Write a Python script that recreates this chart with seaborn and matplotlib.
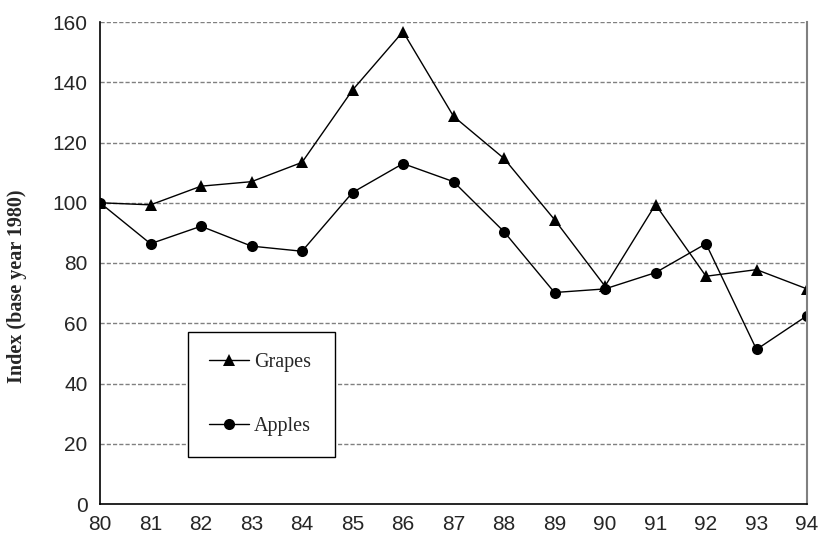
import matplotlib
matplotlib.use("Agg")
import matplotlib.pyplot as plt
import seaborn as sns
import pandas as pd
from matplotlib.lines import Line2D

years = [80, 81, 82, 83, 84, 85, 86, 87, 88, 89, 90, 91, 92, 93, 94]
grapes = [100, 99.3, 105.5, 107, 113.4, 137.4, 156.8, 128.7, 114.7, 94.4, 72.3, 99.4, 75.6, 77.8, 71.4]
apples = [100, 86.4, 92.2, 85.6, 83.9, 103.4, 113, 107, 90.4, 70.2, 71.4, 76.8, 86.4, 51.3, 62.5]
yticks = [0, 20, 40, 60, 80, 100, 120, 140, 160]

df = pd.DataFrame({"year": years * 2,
                   "value": grapes + apples,
                   "series": ["Grapes"] * len(years) + ["Apples"] * len(years)})

sns.set_style("white")
fig = plt.figure(figsize=(8.19, 5.34), dpi=100)
ax = fig.add_axes([100 / 819, 30 / 534, 707 / 819, 482 / 534])

sns.lineplot(data=df, x="year", y="value", hue="series", style="series",
             palette={"Grapes": "black", "Apples": "black"},
             markers={"Grapes": "^", "Apples": "o"}, dashes=False,
             markersize=8, markeredgewidth=0, linewidth=1.0, ax=ax, legend=False)

ax.set_xlim(80, 94)
ax.set_ylim(0, 160)
ax.set_xticks(years)
ax.set_xticklabels([str(y) for y in years], family="Liberation Sans", fontsize=15)
ax.set_yticks(yticks)
ax.set_yticklabels([str(v) for v in yticks], family="Liberation Sans", fontsize=15)

for v in yticks[1:]:
    ax.axhline(v, color="#808080", linestyle=(0, (3, 1.5)), linewidth=1.0, zorder=0)

ax.spines["top"].set_visible(False)
ax.spines["right"].set_color("#808080")
ax.spines["right"].set_linewidth(1.5)
ax.spines["left"].set_color("black")
ax.spines["bottom"].set_color("black")
ax.spines["left"].set_linewidth(1.2)
ax.spines["bottom"].set_linewidth(1.2)
ax.tick_params(axis="x", direction="inout", length=14, width=1, color="black", pad=1)
ax.tick_params(axis="y", direction="out", length=7, width=1, color="black", pad=2)

ax.set_xlabel("")
ax.set_ylabel("Index (base year 1980)", family="Liberation Serif", fontweight="bold", fontsize=14.5)
ax.yaxis.set_label_coords(-0.103, 0.452)

handles = [Line2D([], [], color="black", lw=1, marker="^", markersize=8, markeredgewidth=0),
           Line2D([], [], color="black", lw=1, marker="o", markersize=8, markeredgewidth=0)]
leg = ax.legend(handles, ["Grapes", "Apples"], loc="lower left",
                bbox_to_anchor=(0.124, 0.0975, 0.209, 0.265), mode="expand",
                prop={"family": "Liberation Serif", "size": 14.5},
                frameon=True, fancybox=False, framealpha=1, edgecolor="black",
                labelspacing=2.2, handlelength=2.0, handletextpad=0.25,
                borderpad=1.05, borderaxespad=0)
leg.get_frame().set_linewidth(1.0)

fig.savefig("out.png", dpi=100)
